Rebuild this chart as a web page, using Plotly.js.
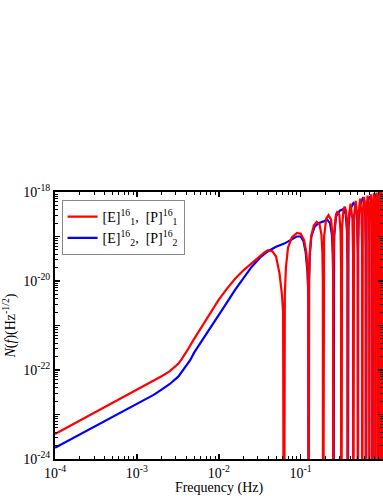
<!DOCTYPE html>
<html>
<head>
<meta charset="utf-8">
<script src="https://cdn.plot.ly/plotly-3.0.1.min.js"></script>
<style>
  body { margin: 0; background: #fff; }
  #chart { width: 383px; height: 496px; }
</style>
</head>
<body>
<div id="chart"></div>
<script>
const redFreqLow = [1e-4, 2e-4, 5e-4, 1e-3, 1.6e-3, 2e-3, 2.5e-3, 2.8e-3, 3.2e-3, 3.5e-3, 4e-3, 5e-3, 6.3e-3, 7.9e-3, 1e-2, 1.26e-2, 1.58e-2, 2e-2, 2.5e-2, 3.2e-2, 3.6e-2, 4e-2, 4.5e-2, 5e-2, 5.5e-2, 5.9e-2, 6.1e-2, 0.0625];
const redLogLow  = [-23.44, -23.14, -22.75, -22.45, -22.25, -22.14, -22.03, -21.96, -21.86, -21.76, -21.6, -21.3, -21.0, -20.7, -20.42, -20.17, -19.95, -19.76, -19.6, -19.44, -19.36, -19.31, -19.33, -19.45, -19.82, -20.3, -20.7, -30];

const redFreqLobes = [
  0.064, 0.066, 0.07, 0.078, 0.09, 0.1, 0.11, 0.117, 0.122, 0.124, 0.125,
  0.1265, 0.129, 0.134, 0.145, 0.157, 0.17, 0.179, 0.184, 0.1865, 0.1875,
  0.189, 0.193, 0.205, 0.219, 0.235, 0.245, 0.249, 0.25,
  0.2515, 0.257, 0.27, 0.282, 0.297, 0.307, 0.311, 0.3125,
  0.314, 0.32, 0.333, 0.344, 0.358, 0.369, 0.3735, 0.375,
  0.377, 0.385, 0.406, 0.428, 0.436, 0.4375,
  0.4395, 0.448, 0.469, 0.49, 0.498, 0.5,
  0.502, 0.51, 0.531, 0.552, 0.5605, 0.5625,
  0.5645, 0.573, 0.594, 0.615, 0.623, 0.625,
  0.627, 0.636, 0.656, 0.677, 0.6855, 0.6875,
  0.69, 0.698, 0.719, 0.74, 0.748, 0.75,
  0.752, 0.761, 0.781, 0.802, 0.8105, 0.8125,
  0.815, 0.823, 0.844, 0.865, 0.873, 0.875,
  0.877, 0.886, 0.906, 0.927, 0.9355, 0.9375,
  0.94, 0.948, 0.969, 0.99, 0.998, 1.0
];
const redLogLobes = [
  -20.3, -19.7, -19.25, -19.02, -18.92, -18.94, -19.08, -19.35, -19.8, -20.3, -30,
  -20.0, -19.4, -19.0, -18.75, -18.67, -18.73, -18.95, -19.35, -20.0, -30,
  -19.8, -19.0, -18.6, -18.52, -18.62, -19.0, -19.8, -30,
  -19.7, -18.9, -18.5, -18.43, -18.52, -18.9, -19.7, -30,
  -19.6, -18.8, -18.4, -18.33, -18.42, -18.8, -19.6, -30,
  -19.4, -18.6, -18.26, -18.6, -19.4, -30,
  -19.3, -18.55, -18.2, -18.55, -19.3, -30,
  -19.2, -18.5, -18.15, -18.5, -19.2, -30,
  -19.2, -18.45, -18.11, -18.45, -19.2, -30,
  -19.1, -18.42, -18.08, -18.42, -19.1, -30,
  -19.1, -18.4, -18.05, -18.4, -19.1, -30,
  -19.0, -18.38, -18.03, -18.38, -19.0, -30,
  -19.0, -18.36, -18.01, -18.36, -19.0, -30,
  -19.0, -18.35, -18.0, -18.35, -19.0, -30,
  -19.0, -18.33, -17.98, -18.33, -19.0, -30
];

const blueFreqLow = [1e-4, 2e-4, 5e-4, 1e-3, 1.6e-3, 2e-3, 2.5e-3, 3.2e-3, 3.55e-3, 4e-3, 4.47e-3, 5e-3, 6.3e-3, 7.9e-3, 1e-2, 1.26e-2, 1.58e-2, 2e-2, 2.5e-2, 3.2e-2, 4e-2, 5e-2, 6.3e-2, 7.9e-2, 8.9e-2, 0.1, 0.108, 0.115, 0.121, 0.124, 0.125];
const blueLogLow  = [-23.75, -23.45, -23.06, -22.76, -22.56, -22.44, -22.32, -22.15, -22.04, -21.92, -21.78, -21.61, -21.32, -21.04, -20.77, -20.48, -20.2, -19.93, -19.69, -19.47, -19.33, -19.23, -19.16, -19.06, -19.0, -19.0, -19.1, -19.35, -19.8, -20.3, -30];

const blueFreqLobes = [
  0.1265, 0.129, 0.135, 0.148, 0.165, 0.19, 0.21, 0.228, 0.24, 0.247, 0.2495, 0.25,
  0.2515, 0.256, 0.27, 0.3, 0.335, 0.355, 0.368, 0.3735, 0.375,
  0.377, 0.383, 0.4, 0.44, 0.47, 0.49, 0.498, 0.5,
  0.502, 0.51, 0.53, 0.57, 0.6, 0.615, 0.623, 0.625,
  0.627, 0.636, 0.66, 0.7, 0.73, 0.742, 0.748, 0.75,
  0.752, 0.762, 0.79, 0.83, 0.858, 0.868, 0.873, 0.875,
  0.877, 0.887, 0.915, 0.955, 0.983, 0.993, 0.998, 1.0
];
const blueLogLobes = [
  -20.0, -19.4, -19.0, -18.78, -18.7, -18.66, -18.62, -18.7, -18.95, -19.4, -20.0, -30,
  -19.7, -19.0, -18.55, -18.42, -18.38, -18.5, -18.9, -19.6, -30,
  -19.5, -18.8, -18.4, -18.25, -18.3, -18.7, -19.4, -30,
  -19.3, -18.6, -18.3, -18.15, -18.2, -18.55, -19.3, -30,
  -19.2, -18.5, -18.2, -18.1, -18.2, -18.5, -19.2, -30,
  -19.1, -18.45, -18.12, -18.05, -18.15, -18.45, -19.1, -30,
  -19.1, -18.4, -18.08, -18.02, -18.1, -18.4, -19.1, -30
];

const xTickVals = [1e-4, 1e-3, 1e-2, 1e-1, 1];
const xTickText = ['10<sup>-4</sup>', '10<sup>-3</sup>', '10<sup>-2</sup>', '10<sup>-1</sup>', '10<sup>0</sup>'];
const yTickVals = [1e-24, 1e-23, 1e-22, 1e-21, 1e-20, 1e-19, 1e-18];
const yTickText = ['10<sup>-24</sup>', '', '10<sup>-22</sup>', '', '10<sup>-20</sup>', '', '10<sup>-18</sup>'];

const namen = [
  '[E]<sup>16</sup><sub>1</sub>,  [P]<sup>16</sup><sub>1</sub>',
  '[E]<sup>16</sup><sub>2</sub>,  [P]<sup>16</sup><sub>2</sub>'
];

const schrift = 'Liberation Serif, Times New Roman, serif';
const hoch = v => Math.pow(10, v);

const spurBlau = {
  x: blueFreqLow.concat(blueFreqLobes),
  y: blueLogLow.concat(blueLogLobes).map(hoch),
  type: 'scatter',
  mode: 'lines',
  line: { color: '#0000ff', width: 2.2 },
  name: namen[1],
  legendrank: 2
};

const spurRot = {
  x: redFreqLow.concat(redFreqLobes),
  y: redLogLow.concat(redLogLobes).map(hoch),
  type: 'scatter',
  mode: 'lines',
  line: { color: '#ff0000', width: 2.2 },
  name: namen[0],
  legendrank: 1
};

const achse = {
  type: 'log',
  showgrid: false,
  zeroline: false,
  showline: true,
  linecolor: 'black',
  linewidth: 2,
  mirror: 'ticks',
  ticks: 'inside',
  ticklen: 5,
  tickwidth: 1.5,
  tickcolor: 'black',
  tickmode: 'array',
  tickfont: { family: schrift, size: 14, color: 'black' },
  minor: { ticks: 'inside', ticklen: 3, tickwidth: 1, tickcolor: 'black', dtick: 'D1', showgrid: false }
};

const layout = {
  width: 383,
  height: 496,
  margin: { l: 55, r: 0, t: 192, b: 37 },
  paper_bgcolor: 'white',
  plot_bgcolor: 'white',
  font: { family: schrift, color: 'black' },
  xaxis: Object.assign({}, achse, {
    range: [-4, 0.005],
    tickvals: xTickVals,
    ticktext: xTickText,
    title: { text: 'Frequency (Hz)', font: { family: schrift, size: 14 }, standoff: 2 }
  }),
  yaxis: Object.assign({}, achse, {
    range: [-24, -18],
    tickvals: yTickVals,
    ticktext: yTickText,
    title: { text: '<i>N</i>(<i>f</i>)(Hz<sup>-1/2</sup>)', font: { family: schrift, size: 14 }, standoff: 4 }
  }),
  showlegend: true,
  legend: {
    x: 0.02, y: 0.97, xanchor: 'left', yanchor: 'top',
    bgcolor: 'white',
    bordercolor: '#888',
    borderwidth: 1,
    font: { family: schrift, size: 14, color: 'black' },
    tracegroupgap: 0
  }
};

Plotly.newPlot('chart', [spurBlau, spurRot], layout, { staticPlot: true });
</script>
</body>
</html>
